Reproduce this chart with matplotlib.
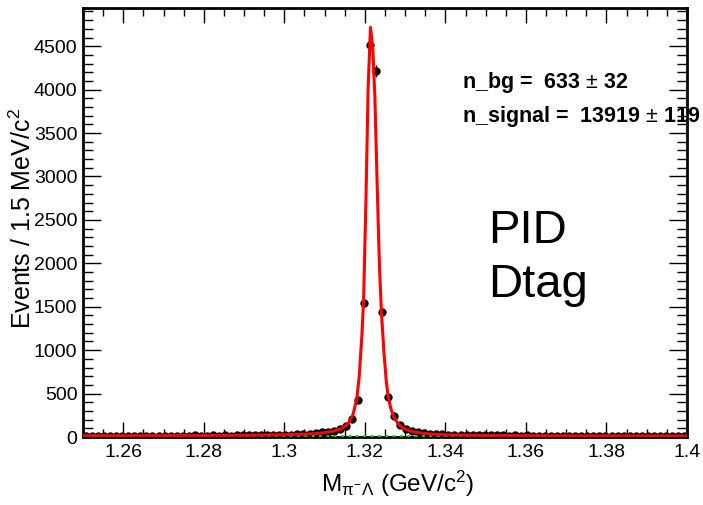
import numpy as np
import matplotlib.pyplot as plt
from matplotlib.ticker import MultipleLocator, FixedLocator, FixedFormatter

plt.rcParams['font.family'] = ['Liberation Sans', 'DejaVu Sans']
plt.rcParams['mathtext.fontset'] = 'custom'
plt.rcParams['mathtext.rm'] = 'Liberation Sans'
plt.rcParams['mathtext.it'] = 'Liberation Sans'

# histogram: 100 bins of 1.5 MeV from 1.25 to 1.40 GeV
lo, hi, nbins = 1.25, 1.40, 100
counts = [14, 12, 16, 13, 15, 11, 17, 14, 13, 15,
          16, 14, 12, 15, 17, 13, 16, 15, 18, 14,
          17, 19, 15, 18, 16, 20, 18, 21, 19, 23,
          22, 25, 24, 28, 27, 32, 35, 38, 44, 52,
          60, 72, 92, 125, 205, 430, 1545, 4510, 4215, 1442,
          465, 245, 140, 95, 70, 55, 48, 40, 33, 30,
          28, 25, 26, 22, 24, 20, 21, 19, 22, 18,
          17, 19, 16, 18, 15, 17, 14, 16, 15, 13,
          15, 14, 16, 12, 15, 13, 14, 12, 15, 13,
          12, 14, 13, 15, 11, 13, 14, 12, 13, 12]

# fit curve
fit_x = [1.250, 1.270, 1.290, 1.300, 1.305, 1.308, 1.310, 1.312, 1.314, 1.315,
         1.316, 1.317, 1.318, 1.3186, 1.3193, 1.3197, 1.3203, 1.3208, 1.3214, 1.3220,
         1.3225, 1.3230, 1.3236, 1.3241, 1.3247, 1.3253, 1.3258, 1.3265, 1.327, 1.328,
         1.329, 1.330, 1.332, 1.334, 1.336, 1.340, 1.350, 1.370, 1.400]
fit_y = [15, 16, 20, 26, 32, 40, 50, 65, 95, 120,
         165, 250, 440, 700, 1200, 1600, 2800, 4000, 4718, 4450,
         3900, 3000, 2000, 1450, 1000, 650, 460, 320, 250, 170,
         120, 90, 60, 45, 35, 25, 18, 14, 12]
bkg_level = 6.3

xticks = [1.26, 1.28, 1.30, 1.32, 1.34, 1.36, 1.38, 1.40]
xticklabels = ['1.26', '1.28', '1.3', '1.32', '1.34', '1.36', '1.38', '1.4']
yticks = [0, 500, 1000, 1500, 2000, 2500, 3000, 3500, 4000, 4500]

fig = plt.figure(figsize=(7.03, 5.05), dpi=100)
ax = fig.add_axes([83/703, 68/505, 604/703, 429/505])

width = (hi - lo) / nbins
centers = lo + width * (np.arange(nbins) + 0.5)
counts = np.array(counts, dtype=float)

ax.errorbar(centers, counts, yerr=np.sqrt(counts), xerr=width/2, fmt='o',
            color='black', ms=5, elinewidth=1, capsize=0, zorder=3)
fit_y = np.array(fit_y)
ax.plot(fit_x, fit_y - bkg_level, color='blue', lw=1, ls='--', zorder=4)
ax.plot(fit_x, fit_y, color='red', lw=2.2, zorder=5)
ax.plot([lo, hi], [bkg_level, bkg_level], color='#00dd00', lw=2, ls=':', zorder=4)

ax.set_xlim(lo, hi)
ax.set_ylim(0, 4940)
ax.xaxis.set_major_locator(FixedLocator(xticks))
ax.xaxis.set_major_formatter(FixedFormatter(xticklabels))
ax.xaxis.set_minor_locator(MultipleLocator(0.005))
ax.yaxis.set_major_locator(FixedLocator(yticks))
ax.yaxis.set_minor_locator(MultipleLocator(100))
ax.tick_params(which='both', direction='in', top=True, right=True, labelsize=14)
ax.tick_params(axis='y', which='major', length=13, width=1, pad=4)
ax.tick_params(axis='y', which='minor', length=7, width=1)
ax.tick_params(axis='x', which='major', length=11, width=1, pad=5)
ax.tick_params(axis='x', which='minor', length=6, width=1)
for s in ax.spines.values():
    s.set_linewidth(2)

ax.set_xlabel(r'M$_{\pi^{-}\Lambda}$ (GeV/c$^{2}$)', fontsize=17.5)
ax.xaxis.set_label_coords(0.5215, -0.075)
ax.set_ylabel(r'Events / 1.5 MeV/c$^{2}$', fontsize=18)
ax.yaxis.set_label_coords(-0.078, 0.51)

ax.text(462/703, 1 - 88/505, r'n_bg =  633 $\pm$ 32', transform=fig.transFigure,
        fontsize=15.5, fontweight='bold', zorder=10)
ax.text(462/703, 1 - 122/505, r'n_signal =  13919 $\pm$ 119', transform=fig.transFigure,
        fontsize=15.5, fontweight='bold', zorder=10, clip_on=False)
ax.text(488/703, 1 - 243/505, 'PID', transform=fig.transFigure, fontsize=34)
ax.text(488/703, 1 - 297/505, 'Dtag', transform=fig.transFigure, fontsize=34)

fig.savefig('out.png', dpi=100)
